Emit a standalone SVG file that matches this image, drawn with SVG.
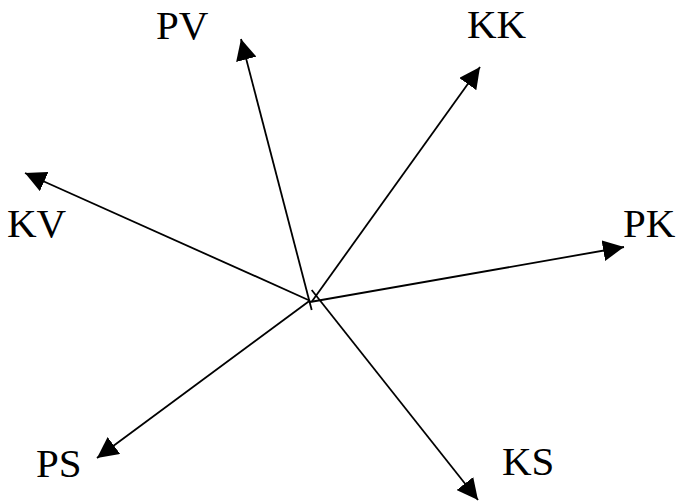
<svg xmlns="http://www.w3.org/2000/svg" width="680" height="502" viewBox="0 0 680 502">
<style>
.lbl{font-family:"Liberation Serif","Times New Roman",serif;font-size:41px;fill:#000}
.ln{stroke:#000;stroke-width:1.8;fill:none;marker-end:url(#ah)}
</style>
<defs>
<marker id="ah" viewBox="0 0 20 20" refX="20" refY="10" markerWidth="21" markerHeight="21" markerUnits="userSpaceOnUse" orient="auto">
<path d="M0,0 L20,10 L0,20 z" fill="#000"/>
</marker>
</defs>
<rect width="680" height="502" fill="#fff"/>
<g id="connectors">
<line class="ln" x1="311.7" y1="310" x2="241" y2="39"/>
<line class="ln" x1="311.7" y1="301.7" x2="480" y2="67"/>
<line class="ln" x1="310" y1="300.7" x2="25" y2="173"/>
<line class="ln" x1="310" y1="302" x2="624" y2="247"/>
<line class="ln" x1="310" y1="300.5" x2="97" y2="458"/>
<line class="ln" x1="311.7" y1="290" x2="478" y2="500"/>
</g>
<g id="PV"><text class="lbl" x="156" y="39">PV</text></g>
<g id="KK"><text class="lbl" x="467" y="38">KK</text></g>
<g id="KV"><text class="lbl" x="7" y="237">KV</text></g>
<g id="PK"><text class="lbl" x="623" y="237">PK</text></g>
<g id="PS"><text class="lbl" x="36" y="477">PS</text></g>
<g id="KS"><text class="lbl" x="502" y="475">KS</text></g>
</svg>
